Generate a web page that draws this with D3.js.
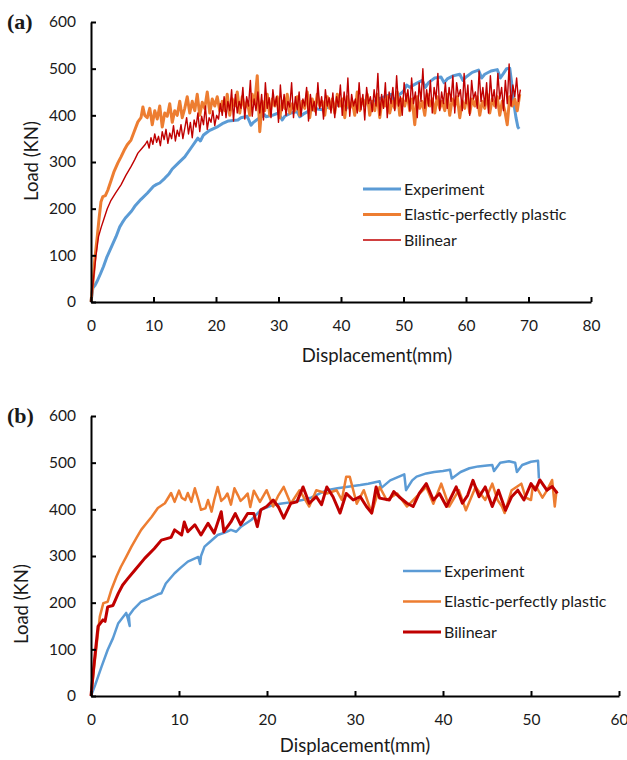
<!DOCTYPE html>
<html>
<head>
<meta charset="utf-8">
<script src="https://cdn.jsdelivr.net/npm/d3@7"></script>
<style>
  body { margin: 0; background: #fff; }
  svg text { font-family: Lato, "Open Sans", sans-serif; fill: #1a1a1a; }
</style>
</head>
<body>
<svg id="chart" width="627" height="760"></svg>
<script>
// ---- panel (a) data: [displacement mm, load kN] ----
const expA = [[0,0],[0.3,30],[0.6,35],[1,45],[1.5,60],[2,76],[2.5,95],[3,110],[3.5,125],[4,140],[4.6,161],[5,170],[5.5,180],[5.9,186],[6.5,195],[7,205],[8,220],[9,233],[10,248],[10.5,252],[11,255],[11.8,265],[12.5,275],[13,285],[14,298],[15,311],[16,330],[17.1,351],[17.5,345],[18,358],[19,368],[20.3,376],[21,382],[22,388],[23.5,390],[24,395],[25,398],[25.6,379],[26,385],[27,395],[27.8,401],[28,397],[29,400],[30,405],[30.6,390],[31,398],[32,405],[33,408],[33.4,397],[34,403],[35,410],[36,414],[37,412],[38,418],[39,420],[40,424],[40.5,410],[41,418],[42,425],[43,428],[44,432],[44.5,420],[45,428],[46,435],[47,440],[48,445],[48.5,432],[49,440],[50,452],[50.5,465],[51,460],[52,468],[53,475],[53.5,460],[54,470],[55,480],[56,482],[56.5,470],[57,478],[58,485],[59,488],[59.5,475],[60,482],[61,492],[62,497],[62.5,480],[63,488],[64,495],[65,498],[65.5,480],[66,490],[66.5,500],[67,501],[67.3,470],[67.6,430],[68,395],[68.3,375],[68.5,371]];

const eppA_rise = [[0,0],[0.3,40],[0.6,90],[1,140],[1.3,180],[1.6,215],[1.9,226],[2.3,228],[2.7,240],[3.2,260],[3.7,280],[4.3,298],[4.8,311],[5.3,325],[5.8,337],[6.4,347],[6.9,365],[7.5,386],[8,395],[8.3,418],[8.6,400]];
const EPP_A_X0 = 9, EPP_A_DX = 0.4;
const eppA_plateau = [
  395,415,380,410,392,420,375,405,398,425,385,410,400,430,395,
  415,440,405,430,410,445,400,428,415,450,405,435,420,440,410,
  430,410,445,400,435,420,450,405,440,415,430,400,445,425,485,
  365,430,410,445,400,435,420,440,395,430,415,445,405,425,410,
  440,400,430,415,450,395,435,410,445,420,430,400,440,415,435,
  405,445,420,435,395,440,415,430,400,450,410,435,420,445,400,
  430,410,445,395,435,420,440,405,430,415,450,400,435,420,445,
  410,435,380,440,415,430,400,445,420,435,405,440,415,430,410,
  445,400,435,420,440,395,430,415,445,405,435,420,440,400,430,
  415,445,405,435,420,440,400,430,410,380,440,420,435,410,445];

const bilA_rise = [[0,0],[0.4,50],[0.8,100],[1.2,140],[1.65,161],[2,175],[2.6,200],[3.2,218],[4,235],[4.8,251],[5.6,272],[6.4,290],[7,305],[7.5,319],[8.2,330],[8.7,338]];
const BIL_A_X0 = 9, BIL_A_DX = 0.3;
const bilA_plateau = [
  345,330,352,338,360,342,355,335,365,348,370,340,362,350,378,345,368,355,380,350,
  372,395,360,385,352,390,375,405,365,398,380,420,370,395,385,410,378,400,392,425,
  400,440,395,430,410,455,388,445,405,430,415,460,392,440,420,475,398,435,410,450,
  405,445,390,470,415,438,395,455,420,440,385,465,410,445,400,430,418,470,395,440,
  412,450,398,435,420,460,388,445,410,430,400,470,415,440,392,455,420,438,405,448,
  395,440,418,465,400,450,410,480,398,445,420,435,405,470,412,445,390,460,425,440,
  408,455,420,490,400,445,415,470,395,450,425,460,410,485,420,440,400,470,430,455,
  410,480,425,450,395,470,430,500,415,455,420,475,405,460,435,490,410,450,425,470,
  415,460,430,485,405,470,440,455,410,490,425,465,400,475,435,450,415,495,430,460,
  420,470,405,485,430,455,415,490,435,460,410,475,425,510,420,465,440,480,430,455];

// ---- panel (b) data ----
const expB = [[0,0],[0.5,25],[1.2,63],[1.9,99],[2.5,124],[3.1,156],[3.6,168],[4.0,178],[4.2,165],[4.4,150],[4.3,172],[4.8,185],[5.7,202],[6.5,208],[7.6,218],[8.0,220],[8.5,241],[9.5,263],[10.2,275],[11,288],[12.2,298],[12.4,283],[12.5,300],[12.9,320],[13.5,330],[14.4,345],[15.2,350],[15.9,356],[16.5,352],[17,362],[18.2,377],[19.3,399],[20.5,408],[21.5,412],[23,416],[24,420],[25,425],[26.8,441],[28,445],[29,448],[30.6,452],[31.5,455],[32.8,460],[33,446],[34,462],[35,470],[35.6,475],[35.8,441],[36.5,462],[37,470],[38.1,477],[39,480],[40,482],[40.8,485],[41.0,466],[42,480],[43,488],[44,492],[45,494],[45.6,495],[45.8,482],[46.5,500],[47.5,503],[48.2,500],[48.4,480],[49,495],[50,502],[50.8,504],[50.9,466]];

const eppB = [[0,0],[0.4,70],[1,170],[1.4,199],[1.9,202],[2.3,227],[2.9,256],[3.4,277],[4,298],[4.6,320],[5.2,340],[5.7,356],[6.3,370],[6.9,384],[7.6,403],[8.4,413],[9.1,435],[9.5,416],[10,440],[10.3,425],[10.7,420],[11,435],[11.4,416],[11.8,445],[12.2,420],[12.5,399],[13,402],[13.3,420],[13.7,395],[14,420],[14.4,448],[14.8,418],[15.2,425],[15.5,434],[15.9,410],[16.3,445],[16.7,430],[17,418],[17.4,425],[17.8,434],[18.1,405],[18.5,440],[19.2,416],[19.96,441],[20.7,406],[21.3,430],[21.9,448],[22.7,412],[23.7,441],[24.8,406],[25.6,441],[26.8,434],[27.9,441],[28.5,420],[29,470],[29.4,470],[30.2,412],[31,441],[31.9,392],[32.8,448],[33.6,420],[34.8,434],[35.9,406],[37,427],[38.1,448],[38.9,412],[39.8,455],[40.7,406],[41.8,441],[42.6,398],[43.7,448],[44.8,420],[45.6,455],[46.2,420],[46.7,406],[47,392],[47.8,441],[48.9,455],[49.4,425],[50,420],[50.2,449],[50.6,448],[51.3,425],[51.8,440],[52.4,463],[52.7,406],[52.9,440]];

const bilB = [[0,0],[0.3,60],[0.8,149],[1.36,163],[1.6,160],[1.9,191],[2.5,194],[3.1,220],[3.6,238],[4.2,252],[5,270],[6.1,295],[7.2,316],[8,334],[9.1,340],[9.5,356],[10.3,345],[10.6,373],[11,352],[11.8,367],[12.5,345],[13.3,370],[14,349],[14.8,395],[15.1,352],[15.9,373],[16.4,391],[17,367],[17.8,391],[18.5,391],[18.9,363],[19.3,399],[19.96,406],[20.7,420],[21.3,405],[21.9,381],[22.7,413],[23.4,416],[24.1,448],[24.8,413],[25.6,427],[26.2,410],[26.8,448],[27.5,427],[28.3,392],[29,434],[29.8,420],[30.6,427],[31.3,406],[31.9,392],[32.4,448],[32.8,424],[33.9,420],[34.4,438],[35,427],[35.9,413],[36.6,406],[37.3,434],[38.1,455],[38.9,420],[39.6,434],[40.4,406],[41.5,448],[42.2,413],[42.8,430],[43.4,462],[44.1,427],[44.8,448],[45.6,406],[46.3,441],[47.1,398],[47.8,427],[48.5,441],[49.2,420],[50,455],[50.5,441],[51,463],[51.8,441],[52.4,449],[53,434]];

const xTicksA = [0,10,20,30,40,50,60,70,80];
const xTicksB = [0,10,20,30,40,50,60];
const yTicks = [0,100,200,300,400,500,600];
const legendLabels = ["Experiment", "Elastic-perfectly plastic", "Bilinear"];
const COLORS = { exp: "#5B9BD5", epp: "#ED7D31", bil: "#C00000" };

const withGrid = (x0, dx, loads) => loads.map((v, i) => [x0 + i * dx, v]);
const eppA = eppA_rise.concat(withGrid(EPP_A_X0, EPP_A_DX, eppA_plateau));
const bilA = bilA_rise.concat(withGrid(BIL_A_X0, BIL_A_DX, bilA_plateau));

const svg = d3.select("#chart");

function drawPanel(p) {
  const x = d3.scaleLinear().domain([0, p.xMax]).range([p.left, p.right]);
  const y = d3.scaleLinear().domain([0, 600]).range([p.bottom, p.top]);
  const g = svg.append("g");

  const line = d3.line().x(d => x(d[0])).y(d => y(d[1]));
  p.series.forEach(s => {
    g.append("path").datum(s.data)
      .attr("fill", "none")
      .attr("stroke", s.color)
      .attr("stroke-width", s.width)
      .attr("stroke-linejoin", "round")
      .attr("d", line);
  });

  const xAxis = g.append("g").attr("transform", `translate(0,${p.bottom})`)
    .call(d3.axisBottom(x).tickValues(p.xTicks).tickSizeInner(-5).tickSizeOuter(0).tickPadding(18));
  const yAxis = g.append("g").attr("transform", `translate(${p.left},0)`)
    .call(d3.axisLeft(y).tickValues(yTicks).tickSizeInner(-5).tickSizeOuter(0).tickPadding(15));
  [xAxis, yAxis].forEach(a => {
    a.select(".domain").attr("stroke", "#000").attr("stroke-width", 2);
    a.selectAll(".tick line").attr("stroke", "#000").attr("stroke-width", 2);
    a.selectAll("text").attr("font-size", 15.5).attr("fill", "#1a1a1a");
  });

  g.append("text")
    .attr("x", p.xTitleX).attr("y", p.bottom + p.xTitleDy)
    .attr("text-anchor", "middle").attr("font-size", 18.5)
    .text("Displacement(mm)");
  g.append("text")
    .attr("transform", `translate(${p.yTitleX},${p.yTitleY}) rotate(-90)`)
    .attr("text-anchor", "middle").attr("dy", "0.35em").attr("font-size", 18.5)
    .text("Load (KN)");
  g.append("text")
    .attr("x", 7).attr("y", p.top + 7)
    .attr("font-weight", "bold").attr("font-size", 22)
    .style("font-family", "'Liberation Serif', 'DejaVu Serif', serif")
    .text(p.tag);

  // legend
  const lg = g.append("g").attr("transform", `translate(${p.legX},${p.legY})`);
  p.series.forEach((s, i) => {
    const row = lg.append("g").attr("transform", `translate(0,${i * p.legGap})`);
    row.append("line").attr("x1", 0).attr("x2", 38).attr("y1", 0).attr("y2", 0)
      .attr("stroke", s.color).attr("stroke-width", s.width);
    row.append("text").attr("x", 41).attr("y", 0).attr("dy", "0.35em")
      .attr("font-size", 16).text(legendLabels[i]);
  });
}

drawPanel({
  tag: "(a)", xMax: 80, xTicks: xTicksA,
  left: 91, right: 591, top: 22, bottom: 302,
  xTitleX: 377, xTitleDy: 60, yTitleX: 32, yTitleY: 161,
  legX: 363, legY: 189, legGap: 25.5,
  series: [
    { data: expA, color: COLORS.exp, width: 3 },
    { data: eppA, color: COLORS.epp, width: 3 },
    { data: bilA, color: COLORS.bil, width: 1.4 }
  ]
});

drawPanel({
  tag: "(b)", xMax: 60, xTicks: xTicksB,
  left: 91, right: 619, top: 416, bottom: 696,
  xTitleX: 355, xTitleDy: 56, yTitleX: 22, yTitleY: 604,
  legX: 403, legY: 571, legGap: 30.5,
  series: [
    { data: expB, color: COLORS.exp, width: 2.5 },
    { data: eppB, color: COLORS.epp, width: 2.5 },
    { data: bilB, color: COLORS.bil, width: 3 }
  ]
});
</script>
</body>
</html>
